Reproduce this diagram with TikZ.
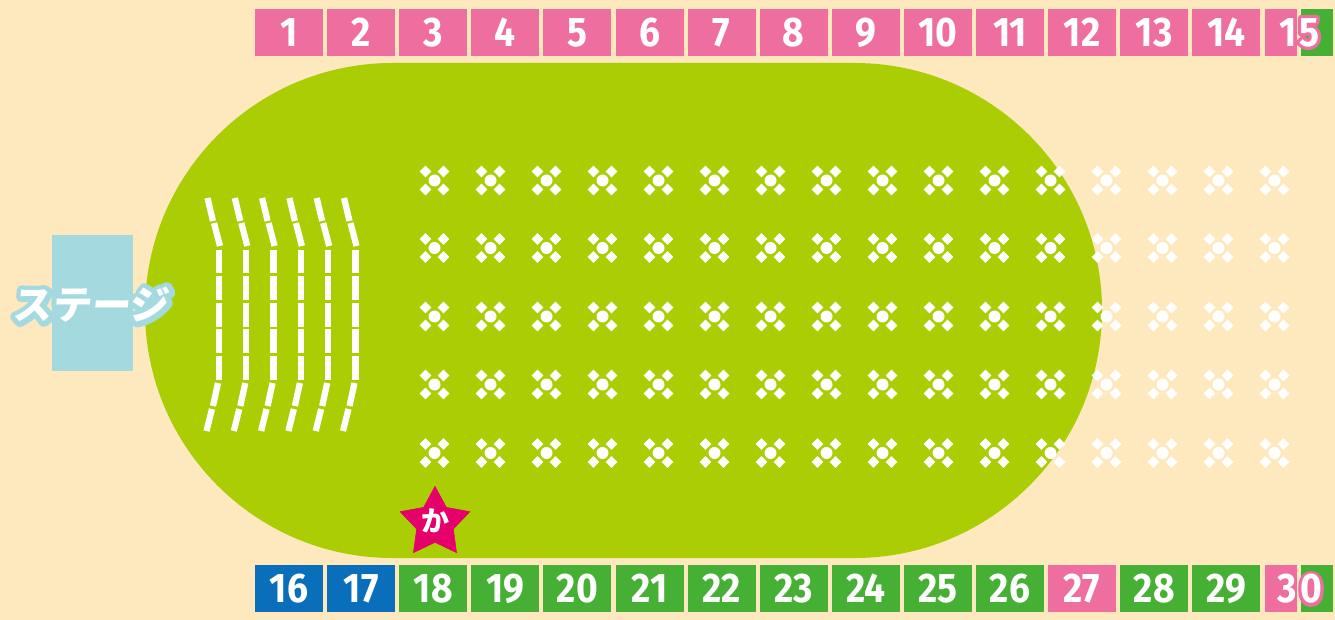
\documentclass[tikz,border=0pt]{standalone}
\usepackage{fontspec}
\usepackage{xcolor}
\usetikzlibrary{positioning, shapes.geometric}
\definecolor{PaperCream}{HTML}{FEE9BF}
\definecolor{FieldGreen}{HTML}{ABCD03}
\definecolor{SeatPink}{HTML}{EE6F9F}
\definecolor{SeatGreen}{HTML}{46B035}
\definecolor{SeatBlue}{HTML}{0A6FBA}
\definecolor{StageBlue}{HTML}{A4D9E0}
\definecolor{StarRed}{HTML}{E5006A}
\setmainfont{Fira Sans}[BoldFont=* Bold, BoldFeatures={FakeStretch=0.9}]
\newfontfamily\digitring[FakeBold=16,FakeStretch=0.9]{Fira Sans Bold}
\newfontfamily\stagefont[FakeSlant=0.08]{Noto Sans CJK JP Black}
\newfontfamily\stagering[FakeSlant=0.08,FakeBold=26]{Noto Sans CJK JP Black}
\newfontfamily\starfont{Noto Sans CJK JP Black}
\tikzset{
  seatbox/.style={minimum width=51pt, minimum height=35.25pt, inner sep=0pt,
    text=white, font=\fontsize{31}{31}\selectfont\bfseries},
  halfbox/.style={minimum width=24pt, minimum height=35.25pt, inner sep=0pt},
  seatnum/.style={inner sep=0pt, text=white, font=\fontsize{31}{31}\selectfont\bfseries},
  ringnum/.style={inner sep=0pt, text=SeatPink, font=\fontsize{31}{31}\digitring},
  lane/.style={draw=white, line width=4.7pt},
  dotmark/.style={fill=white, circle, inner sep=0pt, minimum size=9pt},
  dotleaf/.style={fill=white, diamond, inner sep=0pt, minimum size=9pt}
}
\begin{document}
\begin{tikzpicture}[x=0.75pt, y=-0.75pt]
  \node[fill=PaperCream, minimum width=1001.25pt, minimum height=465pt, inner sep=0pt] (paper) at (667.5,310) {};
  \useasboundingbox (0,0) rectangle (1335,620);
  \node[fill=FieldGreen, rounded corners=185.6pt, minimum width=717.75pt, minimum height=371.25pt, inner sep=0pt] (field) at (623.5,310.5) {};
  \node[fill=StageBlue, minimum width=60.75pt, minimum height=102pt, inner sep=0pt] (stage) at (92.5,303) {};
  % top row
  \foreach \i in {1,...,14}
    \node[seatbox, fill=SeatPink] (top\i) at ({289+72.1*(\i-1)},32.5) {\i};
  \node[halfbox, fill=SeatPink] (top15a) at (1281,32.5) {};
  \node[halfbox, fill=SeatGreen] (top15b) at (1317,32.5) {};
  \node[seatnum] (top15one) at (1288,32.5) {1};
  \node[ringnum] (top15ring) at (1309,32.5) {\special{pdf:code 1 j 1 J}5};
  \node[seatnum] (top15five) at (1309,32.5) {5};
  % bottom row
  \foreach \i/\c in {16/SeatBlue,17/SeatBlue,18/SeatGreen,19/SeatGreen,20/SeatGreen,21/SeatGreen,22/SeatGreen,23/SeatGreen,24/SeatGreen,25/SeatGreen,26/SeatGreen,27/SeatPink,28/SeatGreen,29/SeatGreen}
    \node[seatbox, fill=\c] (bot\i) at ({289+72.1*(\i-16)},588.5) {\i};
  \node[halfbox, fill=SeatPink] (bot30a) at (1281,588.5) {};
  \node[halfbox, fill=SeatGreen] (bot30b) at (1317,588.5) {};
  \node[seatnum] (bot30three) at (1287.5,589) {3};
  \node[ringnum] (bot30ring) at (1311,589) {\special{pdf:code 1 j 1 J}0};
  \node[seatnum] (bot30zero) at (1311,589) {0};
  % lanes
  \foreach \k in {0,...,5} {
    \foreach \a/\b in {250/273,276/300,303/327,329/353,356/380}
      \draw[lane] ({219+27.3*\k},\a) -- ({219+27.3*\k},\b);
    \draw[lane] ({207.5+27.3*\k},198) -- ({213+27.3*\k},221);
    \draw[lane] ({214+27.3*\k},223) -- ({220+27.3*\k},246);
    \draw[lane] ({218+27.3*\k},383) -- ({213+27.3*\k},406);
    \draw[lane] ({212+27.3*\k},409) -- ({206.5+27.3*\k},431);
  }
  % dots
  \foreach \y in {180.5,248,316.5,384.5,453}
    \foreach \k in {0,...,15} {
      \node[dotmark] at ({434.5+56*\k},\y) {};
      \foreach \dx/\dy in {-9/-9,9/-9,-9/9,9/9}
        \node[dotleaf] at ({434.5+56*\k+\dx},{\y+\dy}) {};
    }
  % stage label
  \node[inner sep=0pt, text=StageBlue, font=\fontsize{29.5}{29.5}\stagering] (stagering) at (91,305) {\special{pdf:code 1 j 1 J}ステージ};
  \node[inner sep=0pt, text=white, font=\fontsize{29.5}{29.5}\stagefont] (stagetext) at (91,305) {ステージ};
  % star
  \node[star, star points=5, star point ratio=1.9, minimum size=55pt, inner sep=0pt, fill=StarRed, draw=StarRed, line join=round] (mark) at (435,523) {};
  \node[inner sep=0pt, text=white, font=\fontsize{21}{21}\starfont] (marktext) at (435,521) {か};
\end{tikzpicture}
\end{document}
